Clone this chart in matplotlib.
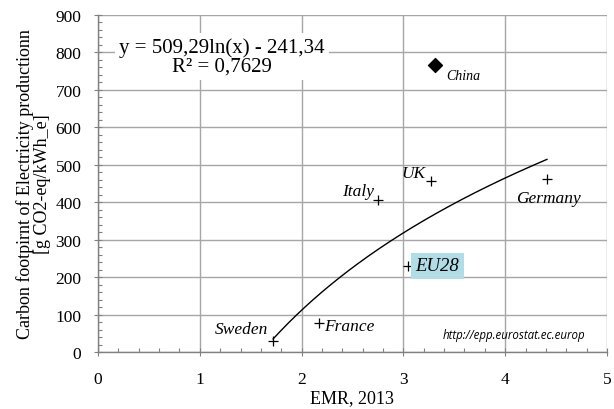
import matplotlib.pyplot as plt
from matplotlib.ticker import MultipleLocator
import numpy as np

# EMR vs carbon footprint of electricity, 2013
countries = ['Sweden', 'France', 'Italy', 'UK', 'Germany', 'EU28']
emr = [1.72, 2.17, 2.75, 3.27, 4.41, 3.05]
footprint = [30, 78, 405, 457, 462, 230]
china_emr = 3.31
china_footprint = 766

# log fit reported for the EU points
fit_a = 509.29
fit_b = -241.34
fit_r2 = 0.7629

plt.rcParams['font.family'] = ['Liberation Serif', 'DejaVu Serif']

fig = plt.figure(figsize=(6.14, 4.10), dpi=100)
ax = fig.add_axes([0.1596, 0.139, 0.829, 0.822])

ax.set_xlim(0, 5)
ax.set_ylim(0, 900)
ax.xaxis.set_major_locator(MultipleLocator(1))
ax.xaxis.set_minor_locator(MultipleLocator(0.2))
ax.yaxis.set_major_locator(MultipleLocator(100))
ax.yaxis.set_minor_locator(MultipleLocator(20))
ax.grid(True, which='major', color='#a6a6a6', lw=1.0)
ax.set_axisbelow(True)
ax.tick_params(which='major', direction='inout', length=6, width=0.8, color='#808080',
               labelsize=12.5)
ax.tick_params(axis='y', which='major', pad=9)
ax.tick_params(axis='x', which='major', pad=11)
ax.tick_params(which='minor', direction='in', length=3, width=0.8, color='#808080')
for side in ['top', 'right']:
    ax.spines[side].set_visible(False)
for side in ['left', 'bottom']:
    ax.spines[side].set_color('#808080')
    ax.spines[side].set_linewidth(1.0)

ax.set_xlabel('EMR, 2013', fontsize=13, labelpad=1)
ax.set_ylabel('Carbon footpirnt of Electricity productionn\n[g CO2-eq/kWh_e]',
              fontsize=13, linespacing=1.0, labelpad=3)

# trend line
xs = np.linspace(min(emr), max(emr), 200)
ax.plot(xs, fit_a * np.log(xs) + fit_b, color='black', lw=1.0, zorder=3)

ax.scatter(emr, footprint, marker='+', color='black', s=45, lw=0.9, zorder=4)
ax.scatter([china_emr], [china_footprint], marker='D', color='black', s=50, zorder=4)

label_pos = {
    'Sweden': (1.67, 62, 'right'),
    'France': (2.22, 70, 'left'),
    'Italy': (2.71, 430, 'right'),
    'UK': (3.22, 478, 'right'),
    'Germany': (4.42, 412, 'center'),
}
for name, (lx, ly, ha) in label_pos.items():
    ax.text(lx, ly, name, fontsize=12.5, style='italic', ha=ha, va='center', zorder=5)

ax.text(3.12, 230, 'EU28', fontsize=13.5, style='italic', ha='left', va='center', zorder=5,
        bbox=dict(boxstyle='square,pad=0.25', fc='#b3dde6', ec='none'))
ax.text(3.42, 738, 'China', fontsize=10, style='italic', ha='left', va='center', zorder=5)

eq = f'y = {fit_a:.2f}ln(x) - {abs(fit_b):.2f}'.replace('.', ',')
r2 = f'R² = {fit_r2:.4f}'.replace('.', ',')
ax.text(1.22, 790, eq + '\n' + r2, fontsize=15, ha='center', va='center', linespacing=1.0,
        zorder=5, bbox=dict(boxstyle='square,pad=0.2', fc='white', ec='none'))

ax.text(3.39, 48, 'http://epp.eurostat.ec.europ', fontsize=8.3, style='italic',
        family=['Open Sans', 'DejaVu Sans'], ha='left', va='center', zorder=5)

fig.savefig('out.png', dpi=100)
